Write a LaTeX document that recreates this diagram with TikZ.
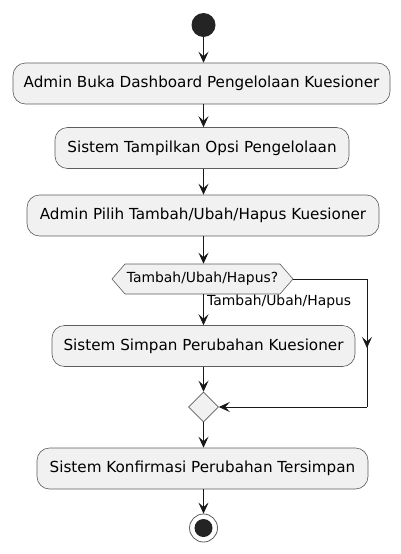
\documentclass[tikz,border=0pt]{standalone}
\usepackage{fontspec}
\setmainfont{DejaVu Sans}
\usetikzlibrary{shapes.geometric,shapes.symbols,arrows.meta}
\definecolor{actfill}{HTML}{F1F1F1}
\definecolor{actline}{HTML}{181818}
\tikzset{
  act/.style={draw=actline!70, line width=0.6pt, fill=actfill, rounded corners=12.5pt,
    minimum height=41pt, inner sep=0pt, font=\fontsize{15.2}{18}\selectfont},
  smalltext/.style={font=\fontsize{13.9}{16}\selectfont},
  flow/.style={draw=actline, line width=0.8pt, -{Stealth[length=11pt,width=10pt,inset=4.5pt]}},
  plain/.style={draw=actline, line width=0.8pt},
}
\begin{document}
\begin{tikzpicture}[x=1pt,y=-1pt]
\useasboundingbox (0,0) rectangle (401,554);
\node[circle, fill=actline!95, minimum size=24pt, inner sep=0pt] (start) at (203.5,25) {};
\node[act, minimum width=377pt] (b1) at (201.5,83.5) {Admin Buka Dashboard Pengelolaan Kuesioner};
\node[act, minimum width=294pt] (b2) at (202,148) {Sistem Tampilkan Opsi Pengelolaan};
\node[act, minimum width=352pt] (b3) at (203,215.5) {Admin Pilih Tambah/Ubah/Hapus Kuesioner};
\node[signal, signal to=west and east, signal pointer angle=98, draw=actline!70, line width=0.6pt,
  fill=actfill, minimum width=181pt, minimum height=30pt, inner xsep=0pt, inner ysep=0pt,
  smalltext] (dec) at (202.5,279) {Tambah/Ubah/Hapus?};
\node[act, minimum width=303pt] (b4) at (203.5,346) {Sistem Simpan Perubahan Kuesioner};
\node[diamond, draw=actline!70, line width=0.6pt, fill=actfill, minimum width=30pt, minimum height=30pt, inner sep=0pt] (merge) at (203.5,407) {};
\node[act, minimum width=331pt] (b5) at (202.5,468.5) {Sistem Konfirmasi Perubahan Tersimpan};
\node[circle, draw=actline!70, line width=0.8pt, fill=white, minimum size=28pt, inner sep=0pt] (endo) at (203.5,528) {};
\node[circle, fill=actline!95, minimum size=18pt, inner sep=0pt] (endi) at (203.5,528) {};
\coordinate (r1) at (367,279);
\coordinate (rm) at (367,348);
\coordinate (r2) at (367,407);
\node[anchor=west, inner sep=0pt, smalltext] (lbl) at (207,302) {Tambah/Ubah/Hapus};

\path[flow] (start.south) -- (start.south |- b1.north);
\path[flow] (start.south |- b1.south) -- (start.south |- b2.north);
\path[flow] (start.south |- b2.south) -- (start.south |- b3.north);
\path[flow] (start.south |- b3.south) -- (start.south |- dec.north);
\path[flow] (start.south |- dec.south) -- (start.south |- b4.north);
\path[flow] (start.south |- b4.south) -- (merge.north);
\path[plain] (dec.east) -- (r1) -- (r2);
\path[flow] (r1) -- (rm);
\path[flow] (r2) -- (merge.east);
\path[flow] (merge.south) -- (start.south |- b5.north);
\path[flow] (start.south |- b5.south) -- (endo.north);
\end{tikzpicture}
\end{document}
